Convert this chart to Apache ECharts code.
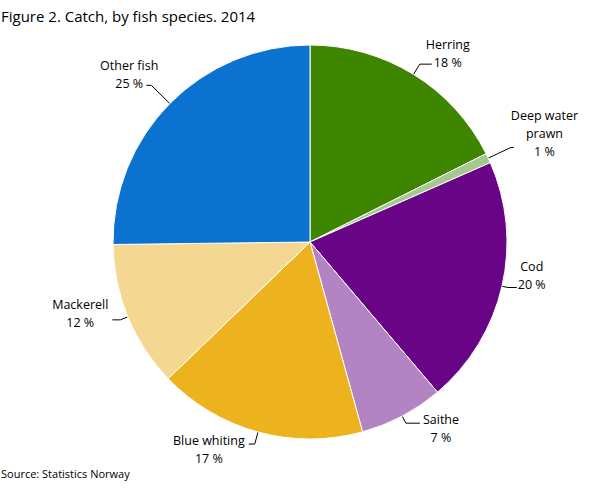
<!DOCTYPE html>
<html><head><meta charset="utf-8">
<script src="https://cdn.jsdelivr.net/npm/echarts@6/dist/echarts.min.js"></script>
<style>html,body{margin:0;padding:0;background:#fff}#c{width:609px;height:488px}</style>
</head><body><div id="c"></div>
<script>
const species = ['Herring', 'Deep water\nprawn', 'Cod', 'Saithe', 'Blue whiting', 'Mackerell', 'Other fish'];
const shares = [17.6, 0.8, 20.4, 6.9, 17.1, 12.0, 25.2];
const colors = ['#3e8500', '#a3c98e', '#680485', '#b384c4', '#ecb31f', '#f4d892', '#0b72cf'];

// label-line styling per slice (length, length2, gap to label, vertical shift of text above line end)
const labelStyle = [
  {len: 12, len2: 12, dist: -6, shift: 11},
  {len: 25, len2: 3, dist: -3, shift: 14},
  {len: 6, len2: 9, dist: 1, shift: 12},
  {len: 8, len2: 14, dist: 3, shift: -5},
  {len: 12.5, len2: 6, dist: 4, shift: -5},
  {len: 8, len2: 8, dist: 4, shift: 6},
  {len: 26, len2: 5, dist: -12, shift: 11}
];

const rich = {t: {fontFamily: 'Open Sans', fontSize: 12.5, lineHeight: 18, color: '#000', align: 'center'}};
labelStyle.forEach((s, i) => {
  rich['s' + i] = {fontSize: 1, lineHeight: Math.max(1, Math.abs(s.shift) * 2), align: 'center'};
});

function fmt(p) {
  const i = p.dataIndex;
  const lines = (p.name + '\n' + Math.round(p.value) + ' %').split('\n').map(l => '{t|' + l + '}');
  const sh = labelStyle[i].shift;
  if (sh > 0) lines.push('{s' + i + '| }');
  else if (sh < 0) lines.unshift('{s' + i + '| }');
  return lines.join('\n');
}

const chart = echarts.init(document.getElementById('c'), null, {renderer: 'svg'});
chart.setOption({
  animation: false,
  title: [
    {text: 'Figure 2. Catch, by fish species. 2014', left: 1, top: 8, padding: 0,
     textStyle: {fontFamily: 'Open Sans', fontSize: 15, fontWeight: 'normal', color: '#000'}},
    {text: 'Source: Statistics Norway', left: 1, top: 468, padding: 0,
     textStyle: {fontFamily: 'Open Sans', fontSize: 11, fontWeight: 'normal', color: '#000'}}
  ],
  series: [{
    type: 'pie',
    center: [310, 242],
    radius: [0, 197],
    startAngle: 90,
    clockwise: true,
    avoidLabelOverlap: false,
    data: species.map((n, i) => ({
      name: n, value: shares[i],
      itemStyle: {color: colors[i]},
      label: {distanceToLabelLine: labelStyle[i].dist},
      labelLine: {length: labelStyle[i].len, length2: labelStyle[i].len2}
    })),
    itemStyle: {borderColor: '#fff', borderWidth: 1},
    label: {
      show: true,
      fontFamily: 'Open Sans', fontSize: 12.5, color: '#000',
      formatter: fmt,
      rich: rich
    },
    labelLine: {show: true, lineStyle: {color: '#000', width: 1}}
  }]
});
</script></body></html>
